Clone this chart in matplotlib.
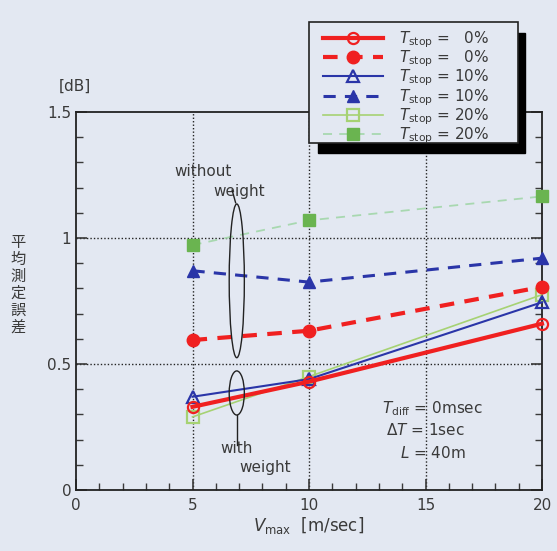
import matplotlib
matplotlib.use("Agg")
import matplotlib.pyplot as plt
from matplotlib.patches import Ellipse, Rectangle

plt.rcParams['font.family'] = ['DejaVu Sans', 'Noto Sans CJK JP']
plt.rcParams['mathtext.fontset'] = 'dejavusans'

vmax = [5, 10, 20]
err_0_w = [0.33, 0.43, 0.66]
err_0_wo = [0.595, 0.632, 0.806]
err_10_w = [0.37, 0.44, 0.745]
err_10_wo = [0.87, 0.825, 0.92]
err_20_w = [0.29, 0.45, 0.775]
err_20_wo = [0.972, 1.07, 1.165]

labels = [r'$T_{\rm stop}$ =   0%', r'$T_{\rm stop}$ =   0%',
          r'$T_{\rm stop}$ = 10%', r'$T_{\rm stop}$ = 10%',
          r'$T_{\rm stop}$ = 20%', r'$T_{\rm stop}$ = 20%']

bg = '#e3e8f2'
red = '#f02020'
blue = '#2a35a8'
lgreen = '#a6d273'
lgreen2 = '#a8d8b0'
fgreen = '#6ab450'
tc = '#3a3a3a'

W, H = 557, 551
fig = plt.figure(figsize=(5.57, 5.51), dpi=100, facecolor=bg)
ax = fig.add_axes([76/W, 1-490/H, (542-76)/W, (490-112)/H], facecolor=bg)

h = []
h += ax.plot(vmax, err_0_w, '-o', color=red, lw=3, ms=8, mfc='none', mec=red, mew=1.6, clip_on=False, zorder=6)
h += ax.plot(vmax, err_0_wo, '--o', color=red, lw=3, ms=9, mfc=red, mec=red, dashes=(3.5, 2.5), clip_on=False, zorder=5)
h += ax.plot(vmax, err_10_w, '-^', color=blue, lw=1.5, ms=8, mfc='none', mec=blue, mew=1.6, clip_on=False, zorder=5)
h += ax.plot(vmax, err_10_wo, '--^', color=blue, lw=2.2, ms=9, mfc=blue, mec=blue, dashes=(4, 3), clip_on=False, zorder=5)
h += ax.plot(vmax, err_20_w, '-s', color=lgreen, lw=1.2, ms=8, mfc='none', mec=lgreen, mew=1.6, clip_on=False, zorder=4)
h += ax.plot(vmax, err_20_wo, '--s', color=lgreen2, lw=1.3, ms=8, mfc=fgreen, mec=fgreen, dashes=(5, 4), clip_on=False, zorder=4)

ax.set_xlim(0, 20)
ax.set_ylim(0, 1.5)
ax.set_xticks([0, 5, 10, 15, 20])
ax.set_xticks(range(0, 21), minor=True)
ax.set_yticks([0, 0.5, 1, 1.5])
ax.set_yticklabels(['0', '0.5', '1', '1.5'])
ax.set_yticks([i/10 for i in range(16)], minor=True)
ax.tick_params(which='both', direction='in', right=True, labelsize=11, colors=tc)
ax.tick_params(which='major', length=8, width=1.2)
ax.tick_params(which='minor', length=5, width=1.0)
ax.tick_params(axis='x', pad=6)
for s in ax.spines.values():
    s.set_linewidth(1.3)
    s.set_color('#222222')

for xv in [5, 10, 15]:
    ax.axvline(xv, color='#222222', lw=1.0, ls=(0, (1, 1.5)), zorder=1)
for yv in [0.5, 1.0]:
    ax.axhline(yv, color='#222222', lw=1.0, ls=(0, (1, 1.5)), zorder=1)

ax.set_xlabel(r'$V_{\rm max}$  [m/sec]', fontsize=12, color=tc, labelpad=1)
fig.text(18/W, 1-285/H, '平\n均\n測\n定\n誤\n差', family=['Noto Sans CJK JP'], fontsize=11,
         ha='center', va='center', linespacing=1.0, color=tc)
fig.text(75/W, 1-86/H, '[dB]', fontsize=11, ha='center', va='center', color=tc)

# ellipses and annotations
ax.add_patch(Ellipse((6.9, 0.83), 0.65, 0.61, fill=False, ec='#222222', lw=1.0, zorder=7))
ax.add_patch(Ellipse((6.9, 0.385), 0.65, 0.175, fill=False, ec='#222222', lw=1.0, zorder=7))
ax.plot([6.7, 6.85], [1.19, 1.14], color='#222222', lw=1.0, zorder=7)
ax.plot([6.9, 6.9], [0.297, 0.18], color='#222222', lw=1.0, zorder=7)
ax.text(5.45, 1.265, 'without', fontsize=11, ha='center', va='center', color=tc)
ax.text(7.0, 1.185, 'weight', fontsize=11, ha='center', va='center', color=tc)
ax.text(6.9, 0.165, 'with', fontsize=11, ha='center', va='center', color=tc)
ax.text(8.1, 0.09, 'weight', fontsize=11, ha='center', va='center', color=tc)

ax.text(15.3, 0.324, r'$T_{\rm diff}$ = 0msec', fontsize=11, ha='center', va='center', color=tc)
ax.text(15.0, 0.237, r'Δ$T$ = 1sec', fontsize=11, ha='center', va='center', color=tc)
ax.text(15.3, 0.146, r'$L$ = 40m', fontsize=11, ha='center', va='center', color=tc)

# legend box with shadow (figure pixel coordinates)
x0, y0, x1, y1 = 309, 22, 518, 143
shadow = Rectangle(((x0 + 9)/W, 1-(y1 + 10)/H), (x1 - x0 - 2)/W, (y1 - y0 - 1)/H,
                   transform=fig.transFigure, facecolor='black', edgecolor='black', zorder=5)
frame = Rectangle((x0/W, 1-y1/H), (x1 - x0)/W, (y1 - y0)/H,
                  transform=fig.transFigure, facecolor=bg, edgecolor='#222222', lw=1.2, zorder=6)
fig.add_artist(shadow)
fig.add_artist(frame)

leg = fig.legend(h, labels, loc='upper left', bbox_to_anchor=(323/W, 1-29/H),
                 fontsize=11, frameon=False, handlelength=3.9,
                 labelspacing=-0.08, borderpad=0, handletextpad=1.1, borderaxespad=0)
leg.set_zorder(7)
for t in leg.get_texts():
    t.set_color(tc)

fig.savefig('out.png', dpi=100, facecolor=bg)
